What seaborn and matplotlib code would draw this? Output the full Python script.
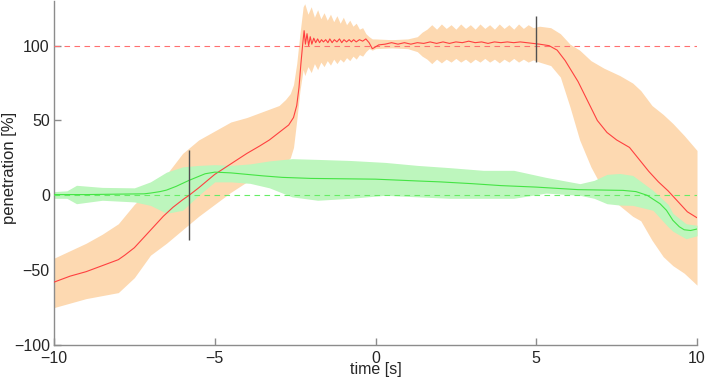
import numpy as np
import matplotlib
matplotlib.use("Agg")
import matplotlib.pyplot as plt
import seaborn as sns

# mean penetration, red series
red_t = [-10.0, -9.5, -9.0, -8.5, -8.0, -7.8, -7.5, -7.2, -6.9, -6.6, -6.3, -6.0, -5.8, -5.5,
         -5.0, -4.5, -4.0, -3.6, -3.3, -3.0, -2.7, -2.55, -2.45, -2.38, -2.32, -2.26, -2.22,
         -2.18, -2.13, -2.08, -2.03, -1.98, -1.92, -1.86, -1.80, -1.74, -1.68, -1.62, -1.55,
         -1.48, -1.42, -1.35, -1.28, -1.2, -1.12, -1.05, -0.98, -0.9, -0.82, -0.75, -0.68,
         -0.6, -0.5, -0.4, -0.3, -0.2, -0.1, -0.05, 0.1, 0.3, 0.5, 0.7, 0.9, 1.1, 1.3, 1.5,
         1.7, 1.9, 2.1, 2.3, 2.5, 2.7, 2.9, 3.1, 3.3, 3.5, 3.7, 3.9, 4.1, 4.3, 4.5, 4.7, 4.9,
         5.1, 5.4, 5.65, 5.9, 6.1, 6.3, 6.6, 6.9, 7.2, 7.5, 7.9, 8.2, 8.5, 8.8, 9.1, 9.4, 9.7, 10.0]
red_y = [-58, -54, -51, -47, -43, -40, -35, -28, -21, -14, -8, -3, 0, 5,
         14, 21, 28, 33, 37, 42, 47, 52, 60, 72, 88, 102, 110,
         101, 108, 100, 106, 101, 105, 102, 104.5, 102, 104, 102.5, 104,
         102, 104.5, 102, 104, 102.5, 104.5, 102, 104, 102.5, 104, 102.5, 104,
         102.5, 104, 103, 104.5, 102, 98, 98.5, 100.5, 101, 102, 101, 102, 101, 102, 101.5,
         102.5, 101.5, 102.5, 101.5, 102.5, 102, 103, 102, 102.5, 101.5, 102.5, 102, 102.5, 102, 102.5, 102, 101.5,
         101, 100, 97, 90, 83, 76, 63, 50, 42, 37, 32, 24, 16, 9, 3, -4, -11, -15]

# spread of the red series
band_t = [-10.0, -9.5, -9.0, -8.5, -8.0, -7.5, -7.0, -6.5, -6.0, -5.5, -5.0, -4.5, -4.0, -3.5,
          -3.0, -2.8, -2.65, -2.55, -2.45, -2.35, -2.25, -2.2, -2.1, -2.0, -1.9, -1.8, -1.7,
          -1.6, -1.5, -1.4, -1.3, -1.2, -1.1, -1.0, -0.9, -0.8, -0.7, -0.6, -0.5, -0.4, -0.3,
          -0.2, -0.1, 0.0, 0.5, 1.0, 1.3, 1.45, 1.6, 1.75, 1.9, 2.05, 2.2, 2.35, 2.5, 2.65,
          2.8, 2.95, 3.1, 3.25, 3.4, 3.55, 3.7, 3.85, 4.0, 4.15, 4.3, 4.45, 4.6, 4.75, 4.9,
          5.1, 5.45, 5.75, 6.05, 6.35, 6.7, 7.1, 7.6, 8.0, 8.25, 8.6, 8.95,
          9.25, 9.6, 10.0]
red_lo = [-75, -72, -69, -67, -65, -55, -40, -32, -23, -14, -6, 2, 9, 14,
          19, 22, 25, 32, 50, 70, 84, 80, 86, 82, 88, 84, 89,
          86, 90, 87, 91, 88, 91, 89, 92, 90, 93, 91, 94, 93, 96,
          98, 97, 98, 98.5, 98, 96, 93, 91, 88, 91, 88.5, 91, 89, 91.5, 89,
          91, 88.5, 91, 89, 91.5, 89, 91, 88.5, 91, 89, 91.5, 89, 91, 89, 90.5,
          89, 86.7, 79, 59, 37, 19, 3, -7, -14, -17, -30, -41,
          -47, -52, -60]
red_hi = [-42, -37, -32, -26, -19, -6, 4, 14, 28, 37, 43, 49, 52, 56,
          60, 64, 68, 74, 88, 108, 126, 128, 121, 126, 119, 124, 118,
          122, 117, 121, 116, 120, 115, 119, 114, 117, 113, 115, 111, 112, 108,
          106, 104.5, 104.5, 104, 104.5, 106, 109, 111, 114, 111, 114.5, 111.5, 114, 111, 114.5,
          111.5, 114, 111, 114.5, 111.5, 114, 111, 114.5, 111.5, 114, 111, 114.5, 111.5, 114, 112,
          113, 112, 108, 101, 97, 90, 85, 80, 75, 70, 60, 54,
          48, 40, 30]

# mean penetration, green series
green_t = [-10, -9, -8, -7.2, -7, -6.7, -6.5, -6.2, -5.8, -5.3, -5, -4.5, -4, -3.5, -2.9, -2,
           -0.8, 0, 1.3, 2.0, 3.0, 3.9, 5, 6.3, 7.7, 8.1, 8.45, 8.85, 9.05, 9.25, 9.45, 9.6, 9.8, 10]
green_y = [0.5, 0.5, 0.8, 1, 1.5, 2.5, 3.5, 6, 10, 14.4, 15.5, 15, 14, 13, 12, 11.3,
           11, 10.8, 9.6, 9, 7.8, 6.5, 5.5, 3.8, 3.3, 2.5, 0, -5.6, -10, -16.7, -21, -23, -23.5, -22.5]

# spread of the green series
gband_t = [-10, -9.6, -9.3, -8.5, -7.5, -7.0, -6.5, -6.0, -5.5, -5.0, -4.5, -3.9, -3.3, -2.6,
           -1.8, -0.8, 0.3, 1.3, 2.3, 3.35, 4.3, 5.3, 6.36, 6.8, 7.2, 7.6, 8.0, 8.63, 9.1,
           9.25, 9.66, 10]
green_lo = [-2, -2, -5.6, -3.3, -4.4, -6.7, -12, -10, 0, 9, 9, 8, 5, -1,
            -3.3, -2, 0, -1, -2, -2, -2, 1.5, 0, -2, -5.6, -6.5, -6.7, -10, -21,
            -24, -29, -27]
green_hi = [2.5, 3, 6.7, 5.3, 5, 9, 15.5, 19, 20, 20.5, 20, 21, 23, 24.5,
            24, 23.3, 22, 20, 18.5, 16.7, 16.7, 12, 7.8, 10, 14, 14.6, 13.3, 3.3, -6,
            -12, -19, -20]

# event markers: (time, low, high)
marker_t = [-5.8, 5.0]
marker_lo = [-30, 89]
marker_hi = [30, 120]

sns.set_style("ticks")
plt.rcParams['font.family'] = ['Liberation Sans', 'DejaVu Sans']
plt.rcParams['font.size'] = 11

fig = plt.figure(figsize=(7.06, 3.79), dpi=100)
ax = fig.add_axes([54 / 706, 1 - 345 / 379, 643 / 706, 345 / 379 - 0.002])

ax.fill_between(band_t, red_lo, red_hi, color='#fdd9b1', linewidth=0, zorder=1)
ax.fill_between(gband_t, green_lo, green_hi, color='#bdf6bd', linewidth=0, zorder=2)

ax.axhline(100, color='#ff7070', linestyle=(0, (5, 4)), linewidth=0.8, zorder=3)
ax.axhline(0, color='#66ee66', linestyle=(0, (5, 4)), linewidth=0.8, zorder=3)

sns.lineplot(x=red_t, y=red_y, color='#ff4040', linewidth=0.8, ax=ax, zorder=4)
sns.lineplot(x=green_t, y=green_y, color='#44e444', linewidth=0.8, ax=ax, zorder=5)

ax.vlines(marker_t, marker_lo, marker_hi, color='#505050', linewidth=1.0, zorder=6)

ax.set_xlim(-10, 10)
ax.set_ylim(-100, 130)
ax.set_xticks([-10, -5, 0, 5, 10])
ax.set_yticks([-100, -50, 0, 50, 100])
ax.set_xlabel('time [s]', fontsize=11.5)
ax.set_ylabel('penetration [%]', fontsize=12)
ax.xaxis.set_label_coords(0.5, -0.05)
ax.yaxis.set_label_coords(-0.0575, 0.513)

sns.despine(ax=ax)
for side in ['left', 'bottom']:
    ax.spines[side].set_color('#8c8c8c')
    ax.spines[side].set_linewidth(1.0)
ax.tick_params(direction='in', length=5, color='#8c8c8c', width=1, labelsize=11.5)
ax.tick_params(axis='x', pad=4)
ax.tick_params(axis='y', pad=3)

fig.savefig('out.png', dpi=100)
